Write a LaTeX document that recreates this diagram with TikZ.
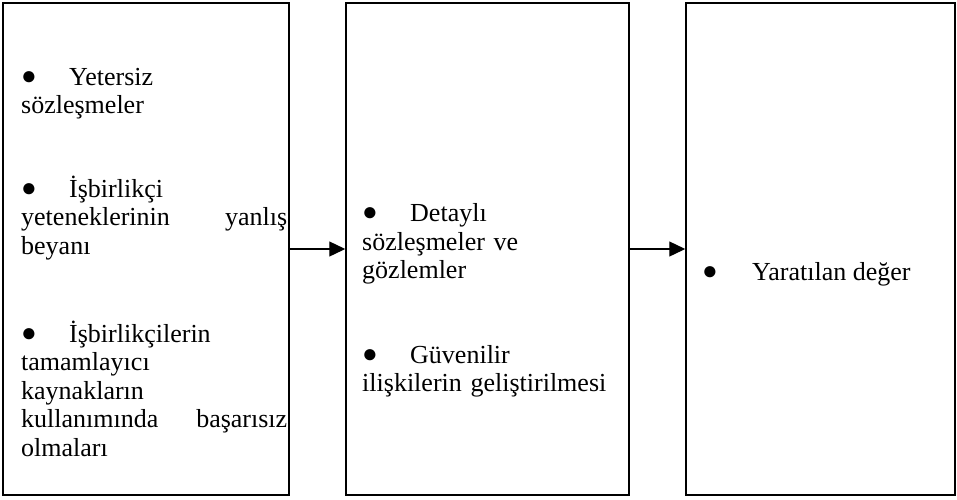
\documentclass[tikz,border=0pt]{standalone}
\usepackage{fontspec}
\setmainfont{Liberation Serif}
\usetikzlibrary{positioning, arrows.meta}

\tikzset{
    kutu/.style={draw=black, line width=1.5pt, inner sep=0pt, minimum height=492pt},
    madde/.style={anchor=base west, inner sep=0pt, align=left,
        font=\fontsize{26}{28.5}\selectfont},
    ok/.style={line width=1.3pt, -{Triangle[length=16pt, width=15pt]}}
}
\newcommand{\nokta}[1][48pt]{\makebox[#1][l]{\raisebox{1pt}{\fontsize{26}{26}\selectfont ●}}}

\begin{document}
\begin{tikzpicture}[x=1pt, y=-1pt]
    \useasboundingbox (0,0) rectangle (957,499);

    % boxes
    \node[kutu, minimum width=286pt] (sorunlar) at (146,249) {};
    \node[kutu, minimum width=283pt] (cozumler) at (487.5,249) {};
    \node[kutu, minimum width=269pt] (deger) at (820.5,249) {};

    % arrows
    \draw[ok] (sorunlar.east) -- (cozumler.west);
    \draw[ok] (cozumler.east) -- (deger.west);

    % first box
    \node[madde, text width=266pt] (yetersiz) at (21,85)
        {\nokta Yetersiz\\sözleşmeler};
    \node[madde, text width=266pt] (beyan) at (21,197)
        {\nokta İşbirlikçi\\yeteneklerinin\hfill yanlış\\beyanı};
    \node[madde, text width=266pt] (kaynak) at (21,342)
        {\nokta İşbirlikçilerin\\tamamlayıcı\\kaynakların\\kullanımında\hfill başarısız\\olmaları};

    % second box
    \node[madde, text width=250pt] (detayli) at (362,221.5)
        {\nokta Detaylı\\sözleşmeler ve\\gözlemler};
    \node[madde, text width=250pt] (guven) at (362,363)
        {\nokta Güvenilir\\ilişkilerin geliştirilmesi};

    % third box
    \node[madde] (yaratilan) at (702,280) {\nokta[50pt]Yaratılan değer};
\end{tikzpicture}
\end{document}
